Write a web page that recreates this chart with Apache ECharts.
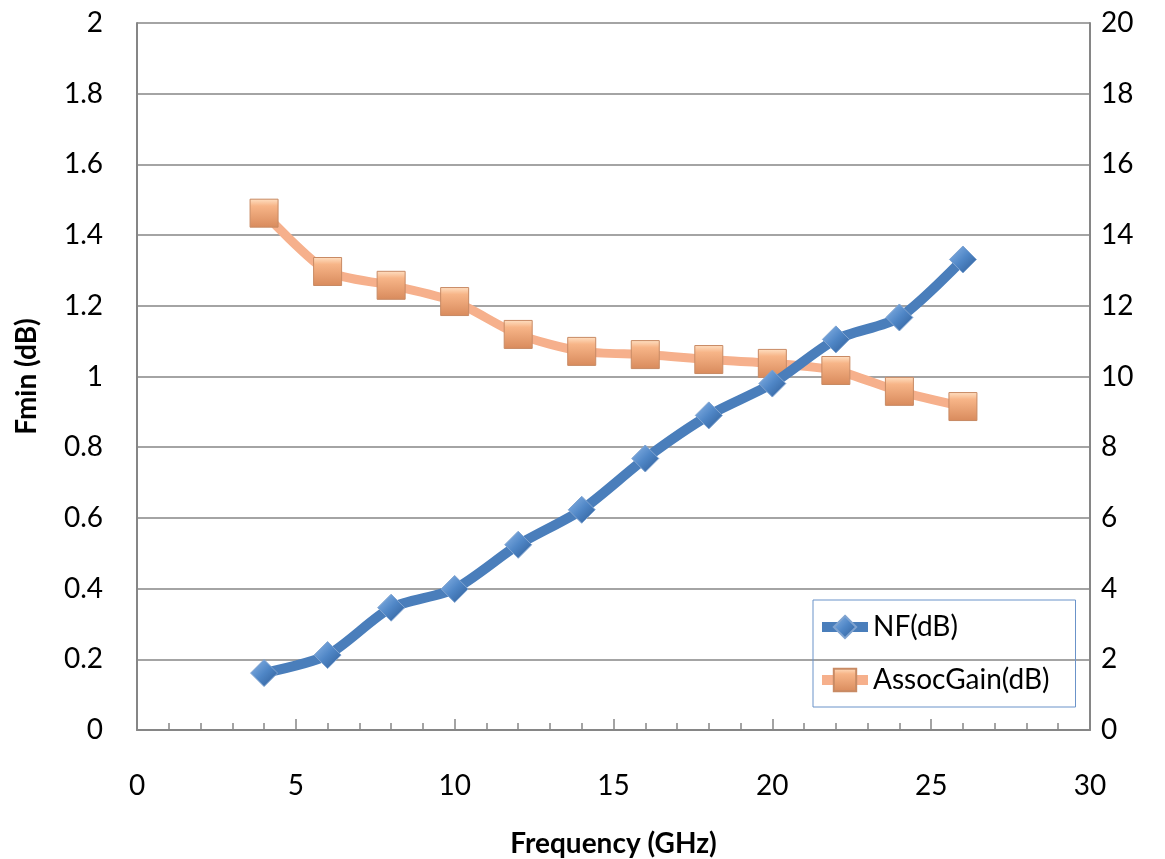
<!DOCTYPE html>
<html><head><meta charset="utf-8">
<script src="https://cdn.jsdelivr.net/npm/echarts@6/dist/echarts.min.js"></script>
<style>html,body{margin:0;padding:0;background:#fff}#c{width:1165px;height:859px}</style>
</head><body><div id="c"></div>
<script>
const freq = [4, 6, 8, 10, 12, 14, 16, 18, 20, 22, 24, 26];
const nf = [0.161, 0.212, 0.346, 0.399, 0.524, 0.623, 0.768, 0.890, 0.980, 1.105, 1.167, 1.331];
const gain = [14.62, 12.97, 12.58, 12.12, 11.19, 10.71, 10.62, 10.48, 10.37, 10.17, 9.58, 9.15];
const nfName = 'NF(dB)';
const gainName = 'AssocGain(dB)';

const font = 'Lato, "Open Sans", sans-serif';
const fs = 28;
const chart = echarts.init(document.getElementById('c'));
const blueGrad = new echarts.graphic.LinearGradient(0,0,1,1,[{offset:0,color:'#8fb8e8'},{offset:0.5,color:'#4f86c6'},{offset:1,color:'#2c5a94'}]);
const orGrad = new echarts.graphic.LinearGradient(0,0,0,1,[{offset:0,color:'#ffe1c4'},{offset:0.25,color:'#f7b588'},{offset:1,color:'#d88a5c'}]);
chart.setOption({
  animation:false,
  grid:{left:137,right:75,top:23,bottom:129,containLabel:false,outerBoundsMode:'none'},
  legend:{
    left:813, top:600, orient:'vertical',
    padding:[10,26,10,4], itemGap:19,
    borderColor:'#6b93c9', borderWidth:1,
    itemWidth:46, itemHeight:28, itemTextGap:3,
    lineStyle:{width:10},
    textStyle:{fontFamily:font,fontSize:fs,lineHeight:34,color:'#000'},
    data:[nfName,gainName]
  },
  xAxis:{
    type:'value', min:0, max:30, interval:5,
    name:'Frequency (GHz)', nameLocation:'middle', nameGap:100,
    nameTextStyle:{fontFamily:font,fontSize:fs,fontWeight:'bold',color:'#000'},
    axisLine:{lineStyle:{color:'#868686',width:2}},
    axisTick:{inside:true,length:11,lineStyle:{color:'#868686',width:1.5}},
    minorTick:{show:true,splitNumber:5,length:7,lineStyle:{color:'#868686',width:1.5}},
    axisLabel:{fontFamily:font,fontSize:fs,color:'#000',margin:42},
    splitLine:{show:false}
  },
  yAxis:[{
    type:'value', min:0, max:2, interval:0.2,
    name:'Fmin (dB)', nameLocation:'middle', nameGap:96, nameRotate:90,
    nameTextStyle:{fontFamily:font,fontSize:fs,fontWeight:'bold',color:'#000'},
    axisLine:{show:true,lineStyle:{color:'#868686',width:2}},
    axisTick:{show:false},
    axisLabel:{fontFamily:font,fontSize:fs,color:'#000',margin:34},
    splitLine:{show:true,lineStyle:{color:'#868686',width:1.5}}
  },{
    type:'value', min:0, max:20, interval:2, position:'right',
    axisLine:{show:true,lineStyle:{color:'#868686',width:2}},
    axisTick:{show:false},
    axisLabel:{fontFamily:font,fontSize:fs,color:'#000',margin:11},
    splitLine:{show:false}
  }],
  series:[{
    name:nfName, type:'line', yAxisIndex:0, smooth:0.25,
    data:freq.map((f,i)=>[f,nf[i]]),
    symbol:'diamond', symbolSize:27,
    lineStyle:{color:'#4a7ebb',width:10},
    itemStyle:{color:blueGrad,borderColor:'#7fa3d0',borderWidth:1},
    z:3
  },{
    name:gainName, type:'line', yAxisIndex:1, smooth:0.25,
    data:freq.map((f,i)=>[f,gain[i]]),
    symbol:'rect', symbolSize:28,
    lineStyle:{color:'#f6b08c',width:9},
    itemStyle:{color:orGrad,borderColor:'#c88a64',borderWidth:1},
    z:2
  }]
});
</script></body></html>
